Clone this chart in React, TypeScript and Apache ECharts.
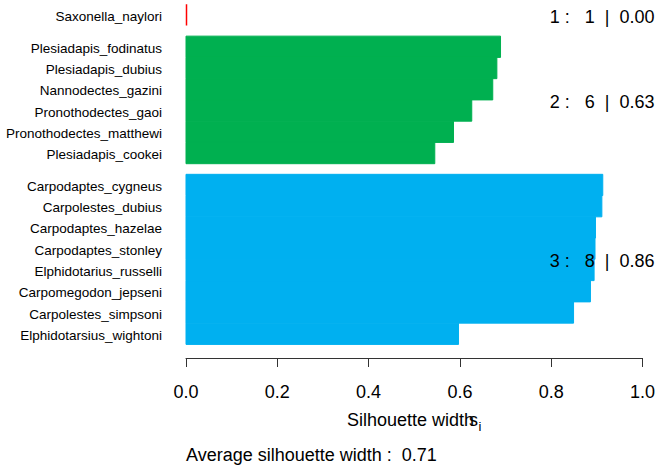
import React, { useEffect, useRef } from "react";
import * as echarts from "echarts";

const names = [
  "Saxonella_naylori",
  "Plesiadapis_fodinatus",
  "Plesiadapis_dubius",
  "Nannodectes_gazini",
  "Pronothodectes_gaoi",
  "Pronothodectes_matthewi",
  "Plesiadapis_cookei",
  "Carpodaptes_cygneus",
  "Carpolestes_dubius",
  "Carpodaptes_hazelae",
  "Carpodaptes_stonley",
  "Elphidotarius_russelli",
  "Carpomegodon_jepseni",
  "Carpolestes_simpsoni",
  "Elphidotarsius_wightoni",
];
const clusters = [1, 2, 2, 2, 2, 2, 2, 3, 3, 3, 3, 3, 3, 3, 3];
const widths = [
  0.0, 0.689, 0.681, 0.672, 0.626, 0.586, 0.545, 0.913, 0.911, 0.897, 0.896,
  0.894, 0.886, 0.849, 0.597,
];
const xTicks = [0, 0.2, 0.4, 0.6, 0.8, 1.0];
const clusterColors: Record<number, string> = { 1: "#FF0000", 2: "#00B050", 3: "#00B0F0" };

const FONT = "'Liberation Sans', Arial, Helvetica, sans-serif";

export default function App() {
  const ref = useRef<HTMLDivElement>(null);
  useEffect(() => {
    if (!ref.current) return;
    const chart = echarts.init(ref.current, null, { renderer: "svg" });

    // bar positions: width-1 bars, 0.5 gap between clusters
    const positions = widths.map((_, i) => i + 0.5 * (clusters[i] - 1));
    const barData = widths.map((w, i) => [w, positions[i], i]);

    const ids = Array.from(new Set(clusters));
    const clusterData = ids.map((c) => {
      const idx = clusters.map((cl, i) => (cl === c ? i : -1)).filter((i) => i >= 0);
      const n = idx.length;
      const avg = idx.reduce((s, i) => s + widths[i], 0) / n;
      const mid = (positions[idx[0]] + positions[idx[n - 1]] + 1) / 2;
      return [mid, `${c} :   ${n}  |  ${avg.toFixed(2)}`];
    });
    const overall = widths.reduce((s, v) => s + v, 0) / widths.length;

    chart.setOption({
      animation: false,
      grid: { left: 186, right: 15, top: 0, bottom: 114, containLabel: false },
      xAxis: {
        type: "value",
        position: "bottom",
        min: 0,
        max: 1,
        interval: 0.2,
        splitLine: { show: false },
        axisLine: { show: true, onZero: false, lineStyle: { color: "#333", width: 1 } },
        axisTick: { show: true, length: 9, lineStyle: { color: "#333" } },
        axisLabel: {
          margin: 25,
          fontSize: 18,
          fontFamily: FONT,
          color: "#000",
          formatter: (v: number) => v.toFixed(1),
        },
        data: xTicks,
      },
      yAxis: {
        type: "value",
        inverse: true,
        min: -0.2,
        max: 16.64,
        show: false,
      },
      series: [
        {
          type: "custom",
          clip: false,
          data: barData,
          renderItem: (params: any, api: any) => {
            const v = api.value(0);
            const p = api.value(1);
            const i = api.value(2);
            const c = clusterColors[clusters[i]];
            const tl = api.coord([0, p]);
            const br = api.coord([v, p + 1]);
            const children: any[] = [];
            if (br[0] - tl[0] < 1) {
              children.push({
                type: "line",
                shape: { x1: tl[0] + 0.5, y1: tl[1], x2: tl[0] + 0.5, y2: br[1] },
                style: { stroke: c, lineWidth: 1.5 },
              });
            } else {
              children.push({
                type: "rect",
                shape: { x: tl[0], y: tl[1], width: br[0] - tl[0], height: br[1] - tl[1] },
                style: { fill: c, stroke: c, lineWidth: 1 },
              });
            }
            children.push({
              type: "text",
              x: tl[0] - 24,
              y: (tl[1] + br[1]) / 2 + 1.5,
              style: {
                text: names[i],
                fill: "#000",
                fontSize: 13.5,
                fontFamily: FONT,
                align: "right",
                verticalAlign: "middle",
              },
            });
            return { type: "group", children };
          },
        },
        {
          type: "custom",
          clip: false,
          z: 5,
          data: clusterData,
          renderItem: (params: any, api: any) => {
            const mid = api.value(0);
            const pt = api.coord([1, mid]);
            return {
              type: "text",
              x: pt[0] + 12,
              y: pt[1] + 2,
              style: {
                text: clusterData[params.dataIndex][1],
                fill: "#000",
                fontSize: 18,
                fontFamily: FONT,
                align: "right",
                verticalAlign: "middle",
              },
            };
          },
        },
      ],
      graphic: [
        {
          type: "text",
          x: 347,
          y: 420,
          style: {
            text: "Silhouette width",
            fill: "#000",
            fontSize: 18,
            fontFamily: FONT,
            align: "left",
            verticalAlign: "middle",
          },
        },
        {
          type: "text",
          x: 469,
          y: 420,
          style: { text: "s", fill: "#000", fontSize: 18, fontFamily: FONT, align: "left", verticalAlign: "middle" },
        },
        {
          type: "text",
          x: 478.5,
          y: 426,
          style: { text: "i", fill: "#000", fontSize: 13, fontFamily: FONT, align: "left", verticalAlign: "middle" },
        },
        {
          type: "text",
          x: 186,
          y: 455,
          style: {
            text: `Average silhouette width :  ${overall.toFixed(2)}`,
            fill: "#000",
            fontSize: 18,
            fontFamily: FONT,
            align: "left",
            verticalAlign: "middle",
          },
        },
      ],
    });
    return () => chart.dispose();
  }, []);
  return (
    <div
      ref={ref}
      style={{ position: "fixed", left: 0, top: 0, width: 658, height: 472, background: "#fff" }}
    />
  );
}
